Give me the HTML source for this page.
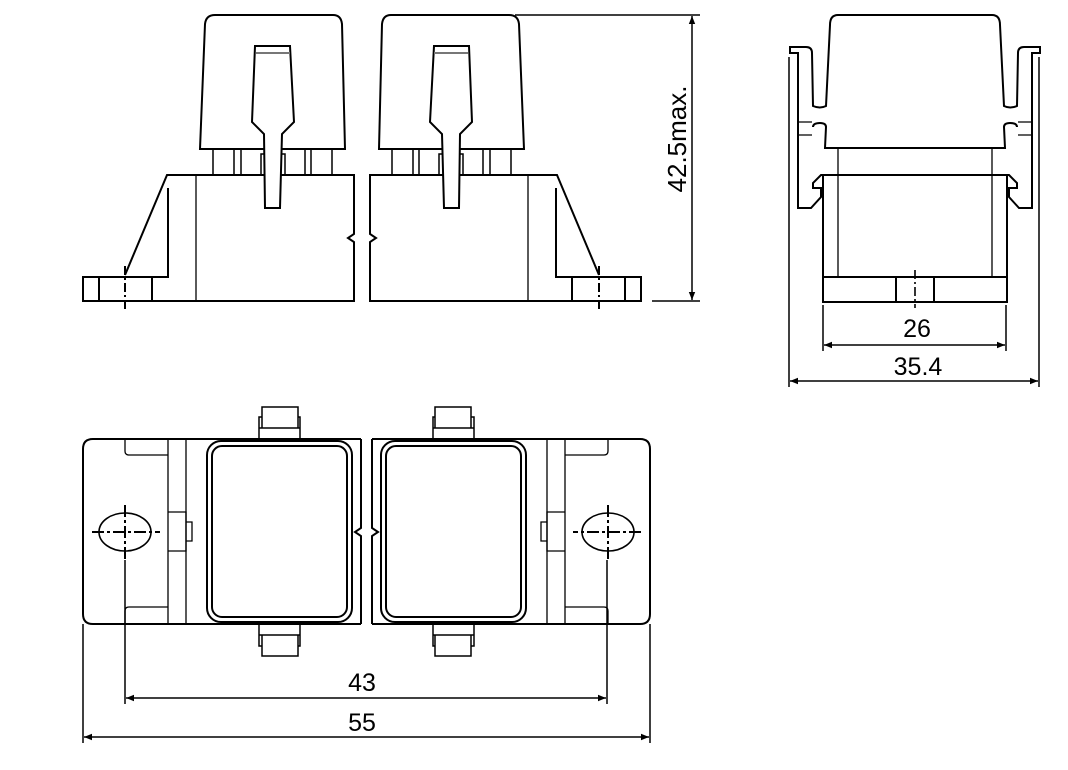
<!DOCTYPE html>
<html><head><meta charset="utf-8"><style>
html,body{margin:0;padding:0;background:#fff;}
svg{display:block;}
text{font-family:"Liberation Sans",Arial,sans-serif;fill:#000;}
</style></head><body>
<svg width="1068" height="770" viewBox="0 0 1068 770" xmlns="http://www.w3.org/2000/svg">
<defs>
<marker id="ar" viewBox="0 0 10 10" refX="10" refY="5" markerWidth="11" markerHeight="8" markerUnits="userSpaceOnUse" orient="auto-start-reverse">
<path d="M0,1 L10,5 L0,9 z" fill="#000"/>
</marker>
<g id="fronthalf" fill="none" stroke="#000" stroke-width="2">
  <path d="M200,149 L205,24 Q206,15 215,15 L333,15 Q341,15 342,24 L345,149 Z"/>
  <path d="M255,46 L290,46 L294,122 L282,134 L280,208 L265,208 L264,134 L252,122 Z" fill="#fff"/>
  <line x1="256" y1="53" x2="290" y2="53" stroke="#777"/>
  <g stroke-width="1.5">
  <line x1="213" y1="149" x2="213" y2="175"/><line x1="234" y1="149" x2="234" y2="175"/><line x1="241" y1="149" x2="241" y2="175"/>
  <line x1="305" y1="149" x2="305" y2="175"/><line x1="311" y1="149" x2="311" y2="175"/><line x1="332" y1="149" x2="332" y2="175"/>
  <path d="M264,175 L261,175 L261,154 L264,154 M281,154 L285,154 L285,175"/>
  </g>
  <path d="M264,175 L167,175 L125,275 M168,188 L168,277 L83,277 L83,301 L354,301 L354,242 L348,238 L354,234 L354,175 L281,175"/>
  <line x1="196" y1="175" x2="196" y2="301" stroke-width="1.3"/>
  <line x1="99" y1="277" x2="99" y2="301"/><line x1="152" y1="277" x2="152" y2="301"/>
  <line x1="125" y1="266" x2="125" y2="309" stroke-dasharray="9,3,2,3"/>
</g>
<g id="tophalf" fill="none" stroke="#000" stroke-width="2">
  <path d="M361,624 L93,624 Q83,624 83,614 L83,449 Q83,439 93,439 L361,439"/>
  <path d="M361,439 L361,528 L355,532 L361,536 L361,624"/>
  <line x1="168" y1="439" x2="168" y2="624" stroke-width="1.3"/>
  <line x1="186" y1="439" x2="186" y2="624" stroke-width="1.3"/>
  <path d="M125,440 L125,451 Q125,455 129,455 L168,455 M125,623 L125,611 Q125,607 129,607 L168,607" stroke-width="1.3"/>
  <path d="M168,512 L186,512 L186,551 L168,551 M186,522 L192,522 L192,541 L186,541" stroke-width="1.3"/>
  <ellipse cx="125" cy="532" rx="26" ry="19" stroke-width="1.6"/>
  <line x1="92" y1="532" x2="160" y2="532" stroke-dasharray="12,3,3,3"/>
  <line x1="125" y1="505" x2="125" y2="560" stroke-dasharray="12,3,3,3"/>
  <rect x="207" y="441" width="145" height="181" rx="14"/>
  <rect x="212" y="446" width="135" height="171" rx="10"/>
  <path d="M259,440 L259,428 L300,428 L300,440 M262,428 L262,407 L298,407 L298,428 M259,428 L259,417 L262,417 M300,428 L300,417 L298,417" stroke-width="1.5"/>
  <path d="M259,623 L259,635 L300,635 L300,623 M262,635 L262,656 L298,656 L298,635 M259,635 L259,646 L262,646 M300,635 L300,646 L298,646" stroke-width="1.5"/>
</g>
<g id="sidehalf" fill="none" stroke="#000" stroke-width="2">
  <path d="M915,15 L838,15 Q830,15 830,25 L826,106 Q820,109 813,106 L812,53 Q812,47 806,47 L790,47 L790,53 L798,53 L798,208 L811,208 L821,197 L821,188 L813,188 L813,183 L821,175 L915,175"/>
  <path d="M813,127 Q813,123 820,123 Q826,123 826,127 L825,148 L915,148"/>
  <path d="M798,122 L812,122 M798,135 L812,135" stroke-width="1.3"/>
  <path d="M823,175 L823,302 L915,302"/>
  <line x1="823" y1="277" x2="915" y2="277"/>
  <line x1="838" y1="148" x2="838" y2="277" stroke-width="1.3"/>
  <line x1="896" y1="277" x2="896" y2="302"/>
</g>
</defs>

<use href="#fronthalf"/>
<use href="#fronthalf" transform="translate(724,0) scale(-1,1)"/>

<use href="#tophalf"/>
<use href="#tophalf" transform="translate(733,0) scale(-1,1)"/>

<use href="#sidehalf"/>
<use href="#sidehalf" transform="translate(1830,0) scale(-1,1)"/>
<line x1="915" y1="270" x2="915" y2="308" stroke="#000" stroke-width="1.6" stroke-dasharray="9,3,2,3"/>

<g stroke="#000" stroke-width="1.5" fill="none">
  <line x1="515" y1="15" x2="700" y2="15"/>
  <line x1="652" y1="301" x2="700" y2="301"/>
  <line x1="692" y1="16" x2="692" y2="300" marker-start="url(#ar)" marker-end="url(#ar)"/>
  <line x1="789" y1="57" x2="789" y2="387"/>
  <line x1="1039" y1="57" x2="1039" y2="387"/>
  <line x1="823" y1="305" x2="823" y2="351"/>
  <line x1="1006" y1="305" x2="1006" y2="351"/>
  <line x1="824" y1="345" x2="1005" y2="345" marker-start="url(#ar)" marker-end="url(#ar)"/>
  <line x1="790" y1="381" x2="1038" y2="381" marker-start="url(#ar)" marker-end="url(#ar)"/>
  <line x1="125" y1="560" x2="125" y2="704"/>
  <line x1="607" y1="560" x2="607" y2="704"/>
  <line x1="83" y1="624" x2="83" y2="743"/>
  <line x1="650" y1="624" x2="650" y2="743"/>
  <line x1="126" y1="698" x2="606" y2="698" marker-start="url(#ar)" marker-end="url(#ar)"/>
  <line x1="84" y1="737" x2="649" y2="737" marker-start="url(#ar)" marker-end="url(#ar)"/>
</g>

<text x="0" y="0" font-size="26" text-anchor="middle" transform="translate(686,139) rotate(-90)">42.5max.</text>
<text x="917" y="337" font-size="25" text-anchor="middle">26</text>
<text x="918" y="375" font-size="25" text-anchor="middle">35.4</text>
<text x="362" y="691" font-size="25" text-anchor="middle">43</text>
<text x="362" y="731" font-size="25" text-anchor="middle">55</text>
</svg>
</body></html>
